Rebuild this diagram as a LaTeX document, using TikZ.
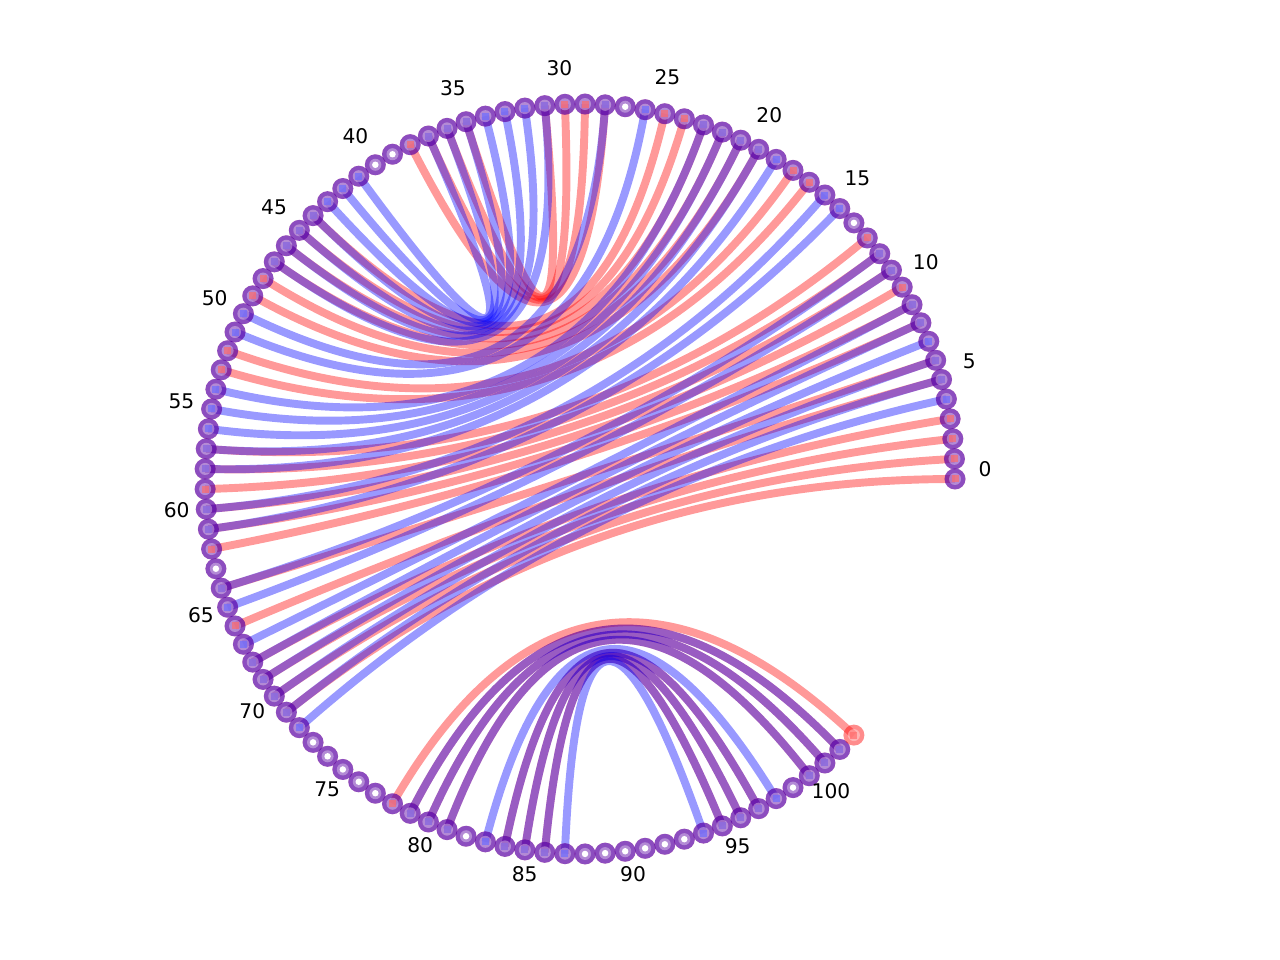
\documentclass[tikz,border=0pt]{standalone}
\usepackage{fontspec}
\setmainfont{DejaVu Sans}
\usetikzlibrary{calc}

% paren van de twee structuren
\newcommand\roodparen{0/71,1/70,2/69,3/68,5/66,6/64,8/62,9/61,10/60,11/59,12/58,13/57,17/53,18/52,20/49,21/48,22/47,23/46,24/45,25/44,28/38,29/37,30/36,31/35,78/103,79/102,80/101,81/100,84/97,85/96,86/95}
\newcommand\blauwparen{4/72,5/71,6/70,7/69,8/68,9/67,11/65,12/64,15/61,16/60,19/58,20/57,21/56,22/55,23/54,26/51,28/50,31/47,32/46,33/45,34/44,35/43,36/42,37/41,79/102,80/101,81/100,83/98,84/97,85/96,86/95,87/94}

\begin{document}
\begin{tikzpicture}[
    rood/.style={red, opacity=.4, line width=4.5pt},
    blauw/.style={blue, opacity=.4, line width=4.5pt},
    schijf/.style={opacity=.45},
    font=\fontsize{11.5}{14}\selectfont]
    \useasboundingbox (-11.6,-9.62) rectangle (14,9.58);

    % Posities op de cirkel (stap 360/117 graden)
    \coordinate (o) at (0,0);
    \foreach \i in {0,...,103}
        \coordinate (n\i) at ({\i*3.07692}:7.5);

    % Bogen
    \foreach \a/\b in \roodparen
        \draw[rood] (n\a) .. controls ($(n\a)!2/3!(o)$) and ($(n\b)!2/3!(o)$) .. (n\b);
    \foreach \a/\b in \blauwparen
        \draw[blauw] (n\a) .. controls ($(n\a)!2/3!(o)$) and ($(n\b)!2/3!(o)$) .. (n\b);

    % Knopen
    \foreach \i in {0,...,102} {
        \fill[schijf, red] (n\i) circle (0.21);
        \fill[schijf, blue] (n\i) circle (0.21);
    }
    \fill[schijf, red] (n103) circle (0.21);
    \foreach \i in {0,...,103}
        \fill[white, opacity=.35] (n\i) circle (0.12);

    % ongepaarde posities
    \foreach \i in {14,27,39,40,63,73,74,75,76,77,82,88,89,90,91,92,93,99}
        \fill[white] (n\i) circle (0.065);

    % Markers voor gepaarde posities
    \foreach \a/\b in \roodparen
        \foreach \p in {\a,\b} {
            \fill[white, opacity=.5] (n\p) ++(-.07,-.07) rectangle ++(.14,.14);
            \fill[red, opacity=.4] (n\p) ++(-.07,-.07) rectangle ++(.14,.14);
        }
    \foreach \a/\b in \blauwparen
        \foreach \p in {\a,\b} {
            \fill[white, opacity=.5] (n\p) ++(-.07,-.07) rectangle ++(.14,.14);
            \fill[blue, opacity=.4] (n\p) ++(-.07,-.07) rectangle ++(.14,.14);
        }

    % Labels
    \foreach \i in {0,5,...,100}
        \node (l\i) at ($({\i*3.07692+0.6}:8.1)+(0,0.12)$) {\i};
\end{tikzpicture}
\end{document}
